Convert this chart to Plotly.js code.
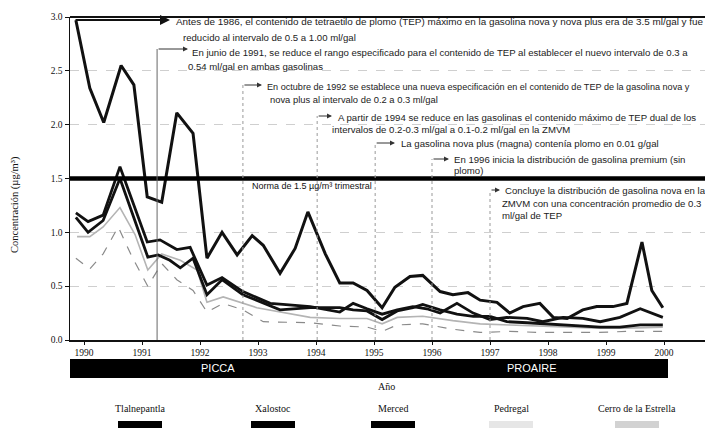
<!DOCTYPE html>
<html><head><meta charset="utf-8">
<script src="https://cdn.plot.ly/plotly-3.0.1.min.js"></script>
<style>html,body{margin:0;padding:0;background:#fff;} #chart{width:705px;height:428px;}</style>
</head><body><div id="chart"></div>
<script>
// ---- Data ----
const stations = ["Tlalnepantla", "Xalostoc", "Merced", "Pedregal", "Cerro de la Estrella"];

const xXalostoc = [1989.86,1990.10,1990.34,1990.64,1990.86,1991.09,1991.34,1991.60,1991.88,1992.12,1992.38,1992.64,1992.90,1993.09,1993.38,1993.64,1993.86,1994.16,1994.41,1994.64,1994.88,1995.14,1995.36,1995.62,1995.84,1996.14,1996.36,1996.62,1996.83,1997.12,1997.34,1997.57,1997.86,1998.09,1998.33,1998.60,1998.84,1999.12,1999.36,1999.62,1999.79,1999.98];
const yXalostoc = [2.97,2.34,2.02,2.55,2.37,1.33,1.28,2.11,1.92,0.76,1.00,0.79,0.97,0.88,0.62,0.85,1.19,0.80,0.53,0.53,0.46,0.30,0.49,0.59,0.60,0.45,0.42,0.44,0.37,0.35,0.25,0.31,0.34,0.21,0.20,0.28,0.31,0.31,0.34,0.91,0.46,0.30];

const xTlalnepantla = [1989.86,1990.07,1990.33,1990.62,1991.09,1991.31,1991.60,1991.83,1992.12,1992.38,1992.74,1993.21,1993.43,1993.90,1994.41,1994.64,1994.88,1995.14,1995.40,1995.67,1995.91,1996.14,1996.43,1996.71,1997.00,1997.29,1997.64,1997.91,1998.26,1998.60,1998.90,1999.24,1999.59,1999.98];
const yTlalnepantla = [1.18,1.10,1.16,1.61,0.91,0.93,0.84,0.86,0.51,0.58,0.45,0.34,0.33,0.31,0.26,0.34,0.29,0.24,0.28,0.31,0.29,0.25,0.34,0.25,0.19,0.21,0.20,0.17,0.21,0.20,0.17,0.21,0.29,0.21];

const xMerced = [1989.86,1990.07,1990.33,1990.62,1991.10,1991.28,1991.48,1991.66,1991.88,1992.12,1992.38,1992.74,1993.38,1993.90,1994.41,1994.64,1994.88,1995.14,1995.40,1995.67,1995.84,1996.14,1996.43,1996.71,1997.00,1997.29,1997.64,1997.91,1998.26,1998.60,1998.90,1999.24,1999.59,1999.98];
const yMerced = [1.14,1.00,1.11,1.50,0.77,0.79,0.74,0.67,0.76,0.42,0.56,0.42,0.28,0.30,0.30,0.28,0.27,0.19,0.27,0.30,0.33,0.28,0.24,0.22,0.22,0.17,0.16,0.15,0.14,0.13,0.12,0.12,0.14,0.14];

const xPedregal = [1989.88,1990.10,1990.33,1990.62,1990.88,1991.10,1991.34,1991.66,1991.95,1992.12,1992.40,1992.98,1993.90,1994.41,1994.88,1995.14,1995.40,1995.84,1996.36,1996.83,1997.34,1997.86,1998.33,1998.84,1999.36,1999.98];
const yPedregal = [0.96,0.96,1.05,1.23,0.98,0.65,0.80,0.74,0.65,0.35,0.40,0.30,0.21,0.20,0.20,0.15,0.21,0.22,0.18,0.15,0.14,0.13,0.12,0.11,0.11,0.12];

const xCerro = [1989.86,1990.10,1990.33,1990.59,1990.83,1991.10,1991.34,1991.60,1991.88,1992.12,1992.40,1992.74,1993.09,1993.90,1994.41,1994.88,1995.14,1995.40,1995.84,1996.36,1996.83,1997.34,1997.86,1998.33,1998.84,1999.36,1999.98];
const yCerro = [0.76,0.66,0.80,1.05,0.77,0.50,0.71,0.56,0.46,0.26,0.34,0.28,0.17,0.16,0.13,0.12,0.08,0.14,0.15,0.10,0.07,0.08,0.07,0.07,0.07,0.08,0.08];

const yearTicks = [1990,1991,1992,1993,1994,1995,1996,1997,1998,1999,2000];
const yTicks = [0,0.5,1.0,1.5,2.0,2.5,3.0];
const yTickText = ["0.0","0.5","1.0","1.5","2.0","2.5","3.0"];
const normValue = 1.5;
const normLabel = "Norma de 1.5 µg/m³ trimestral";
const eventYears = [1991.26, 1992.74, 1994.02, 1995.02, 1996.0, 1997.0];
const programs = ["PICCA", "PROAIRE"];

// ---- Geometry helpers (layout only) ----
const L = 70, T = 17, W = 635, H = 323;
const PX = p => (p - L) / W;
const PY = p => (T + H - p) / H;
const yearAt = p => 1990 + (p - 84) / 58;
const valAt = p => (T + H - p) / H * 3.0;

const serif = "Liberation Serif, Times New Roman, serif";
const sans = "Liberation Sans, Arial, sans-serif";

const traces = [
  {x: xPedregal, y: yPedregal, name: stations[3], mode: "lines", line: {color: "#b4b4b4", width: 1.6}},
  {x: xCerro, y: yCerro, name: stations[4], mode: "lines", line: {color: "#8a8a8a", width: 1.2, dash: "dash"}},
  {x: xMerced, y: yMerced, name: stations[2], mode: "lines", line: {color: "#111", width: 2.8}},
  {x: xTlalnepantla, y: yTlalnepantla, name: stations[0], mode: "lines", line: {color: "#111", width: 2.8}},
  {x: xXalostoc, y: yXalostoc, name: stations[1], mode: "lines", line: {color: "#111", width: 3}}
];

const shapes = [];
const annotations = [];

// top border
shapes.push({type: "line", xref: "paper", yref: "paper", x0: 0, x1: 1, y0: 1, y1: 1, line: {color: "#111", width: 2}});
// norm line
shapes.push({type: "line", xref: "paper", yref: "y", x0: 0, x1: 1, y0: normValue, y1: normValue, line: {color: "#000", width: 4.5}});

// event vertical lines + arrows
const eventTops = [49, 85, 116, 143, 159, 190];
const eventHeads = [188, 262, 332, 395, 449, 500];
eventYears.forEach((ey, i) => {
  shapes.push({type: "line", xref: "x", yref: "y", x0: ey, x1: ey, y0: 0, y1: valAt(eventTops[i]),
    line: {color: i === 0 ? "#666" : "#999", width: 1, dash: i === 0 ? "solid" : "dot"}});
  annotations.push({xref: "x", yref: "y", axref: "x", ayref: "y", x: yearAt(eventHeads[i]), y: valAt(eventTops[i]),
    ax: ey, ay: valAt(eventTops[i]), text: "", showarrow: true, arrowhead: 2, arrowsize: 1, arrowwidth: 1, arrowcolor: "#333", standoff: 0});
});
// first arrow (before 1986)
annotations.push({xref: "x", yref: "y", axref: "x", ayref: "y", x: yearAt(170), y: valAt(20), ax: yearAt(74), ay: valAt(20),
  text: "", showarrow: true, arrowhead: 2, arrowsize: 1, arrowwidth: 2, arrowcolor: "#111", standoff: 0});

// annotation texts: [text, left px, centre py, size]
const notes = [
  ["Antes de 1986, el contenido de tetraetilo de plomo (TEP) máximo en la gasolina nova y nova plus era de 3.5 ml/gal y fue", 174, 21, 9.9],
  ["reducido al intervalo de 0.5 a 1.00 ml/gal", 181, 37, 9.6],
  ["En junio de 1991, se reduce el rango especificado para el contenido de TEP al establecer el nuevo intervalo de 0.3 a", 190, 52, 9.6],
  ["0.54 ml/gal en ambas gasolinas", 186, 66, 9.6],
  ["En octubre de 1992 se establece una nueva especificación en el contenido de TEP de la gasolina nova y", 265, 87, 9.1],
  ["nova plus al intervalo de 0.2 a 0.3 ml/gal", 268, 100, 9.4],
  ["A partir de 1994 se reduce en las gasolinas el contenido máximo de TEP dual de los", 336, 117, 9.6],
  ["intervalos de 0.2-0.3 ml/gal a 0.1-0.2 ml/gal en la ZMVM", 330, 129, 9.6],
  ["La gasolina nova plus (magna) contenía plomo en 0.01 g/gal", 399, 143, 9.6],
  ["En 1996 inicia la distribución de gasolina premium (sin", 452, 159, 9.6],
  ["plomo)", 452, 171, 9.6],
  ["Concluye la distribución de gasolina nova en la", 503, 190, 9.6],
  ["ZMVM con una concentración promedio de 0.3", 500, 203, 9.6],
  ["ml/gal de TEP", 500, 215, 9.6]
];
notes.forEach(n => annotations.push({xref: "paper", yref: "paper", x: PX(n[1]), y: PY(n[2]), xanchor: "left", yanchor: "middle",
  text: n[0], showarrow: false, font: {family: sans, size: n[3], color: "#222"}}));

annotations.push({xref: "paper", yref: "paper", x: PX(250), y: PY(186), xanchor: "left", yanchor: "middle",
  text: normLabel, showarrow: false, font: {family: sans, size: 9, color: "#111"}});

// y-axis title
annotations.push({xref: "paper", yref: "paper", x: PX(15), y: PY(205), xanchor: "center", yanchor: "middle", textangle: -90,
  text: "Concentración (µg/m³)", showarrow: false, font: {family: serif, size: 10.5, color: "#111"}});

// program bar
shapes.push({type: "rect", xref: "x", yref: "paper", x0: yearAt(68), x1: yearAt(668), y0: PY(378), y1: PY(359),
  fillcolor: "#000", line: {width: 0}});
annotations.push({xref: "x", yref: "paper", x: yearAt(218), y: PY(368.5), xanchor: "center", yanchor: "middle", text: programs[0], showarrow: false,
  font: {family: sans, size: 11, color: "#fff"}});
annotations.push({xref: "x", yref: "paper", x: yearAt(532), y: PY(368.5), xanchor: "center", yanchor: "middle", text: programs[1], showarrow: false,
  font: {family: sans, size: 11, color: "#fff"}});
// x title
annotations.push({xref: "paper", yref: "paper", x: PX(386), y: PY(386), xanchor: "center", yanchor: "middle", text: "Año", showarrow: false,
  font: {family: serif, size: 10, color: "#111"}});

// legend (names above swatches)
const legCenters = [140, 273, 393, 511, 637];
const swFill = ["#000", "#000", "#000", "#e6e6e6", "#d2d2d2"];
stations.forEach((s, i) => {
  annotations.push({xref: "paper", yref: "paper", x: PX(legCenters[i]), y: PY(408), xanchor: "center", yanchor: "middle", text: s, showarrow: false,
    font: {family: serif, size: 10, color: "#111"}});
  shapes.push({type: "rect", xref: "paper", yref: "paper", x0: PX(legCenters[i] - 22), x1: PX(legCenters[i] + 22),
    y0: PY(430), y1: PY(421), fillcolor: swFill[i], line: {width: 0}});
});

const layout = {
  width: 705, height: 428,
  margin: {l: L, r: 0, t: T, b: 428 - T - H},
  paper_bgcolor: "#fff", plot_bgcolor: "#fff",
  showlegend: false,
  xaxis: {range: [yearAt(70), yearAt(705)], tickvals: yearTicks, ticktext: yearTicks.map(String),
    showline: true, linecolor: "#111", linewidth: 1.5, ticks: "outside", ticklen: 3, tickcolor: "#111",
    showgrid: false, zeroline: false, tickfont: {family: serif, size: 9.5, color: "#111"}},
  yaxis: {range: [0, 3.0], tickvals: yTicks, ticktext: yTickText,
    showline: true, linecolor: "#111", linewidth: 1.5, ticks: "outside", ticklen: 4, tickcolor: "#111",
    showgrid: true, gridcolor: "#cfcfcf", griddash: "dash", gridwidth: 1, zeroline: false,
    tickfont: {family: serif, size: 9.5, color: "#111"}},
  shapes: shapes,
  annotations: annotations
};

Plotly.newPlot("chart", traces, layout, {displayModeBar: false, staticPlot: true});
</script>
</body></html>
